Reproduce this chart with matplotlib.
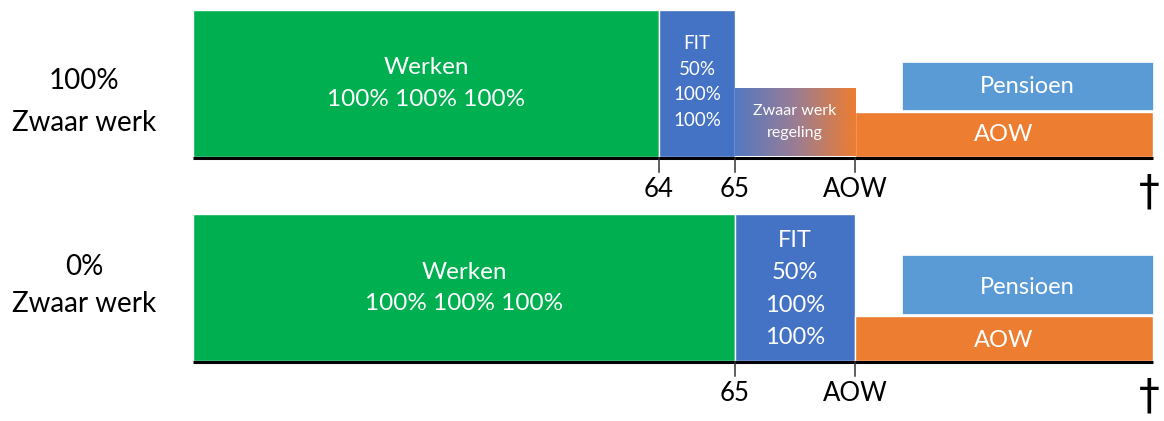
import matplotlib
matplotlib.use("Agg")
import matplotlib.pyplot as plt
import numpy as np
from matplotlib.colors import LinearSegmentedColormap

plt.rcParams['font.family'] = ['Lato', 'DejaVu Sans']

# ---- data ----
row_labels = ["100%\nZwaar werk", "0%\nZwaar werk"]
start_age = 57.87
fit_start = [64.0, 65.0]
fit_end = [65.0, 66.58]
zwr_start = 65.0           # zwaar werk regeling (only top row)
aow_age = 66.58
pension_start = 67.2
end_age = 70.5
full_level = 1.0
zwr_level = 0.46
aow_level = [0.306, 0.306]
pension_top = [0.646, 0.72]
fit_texts = ["FIT\n50%\n100%\n100%", "FIT\n50%\n100%\n100%"]
werken_text = "Werken\n100% 100% 100%"
tick_pos = [[64.0, 65.0, 66.58], [65.0, 66.58]]
tick_labels = [["64", "65", "AOW"], ["65", "AOW"]]

GREEN = "#00B050"
BLUE = "#4472C4"
LBLUE = "#5B9BD5"
ORANGE = "#ED7D31"

W, H = 1164, 421
fig = plt.figure(figsize=(W / 100, H / 100), dpi=100)

# pixel layout of the two panels: (top px, bottom px, baseline px)
panels = [(0, 210, 156.5), (210, 421, 360.5)]
unit_px = 147.0
px0_age = 64 - 659 / 76.0
px1_age = 64 + (W - 659) / 76.0

label_y = [0.37, 0.51]
label_ls = [1.75, 1.5]

for i, (ptop, pbot, base) in enumerate(panels):
    ax = fig.add_axes([0, 1 - pbot / H, 1, (pbot - ptop) / H])
    ax.set_xlim(px0_age, px1_age)
    ax.set_ylim(-(pbot - base) / unit_px, (base - ptop) / unit_px)
    ax.axis("off")

    # Werken
    ax.bar(start_age, full_level, width=fit_start[i] - start_age, align="edge",
           color=GREEN, edgecolor="white", linewidth=1, zorder=2)
    # FIT
    ax.bar(fit_start[i], full_level, width=fit_end[i] - fit_start[i], align="edge",
           color=BLUE, edgecolor="white", linewidth=1, zorder=2)
    # AOW
    ax.bar(aow_age, aow_level[i], width=end_age - aow_age, align="edge",
           color=ORANGE, edgecolor="white", linewidth=1, zorder=2)
    # Pensioen
    ax.bar(pension_start, pension_top[i] - aow_level[i] - 0.012, bottom=aow_level[i] + 0.012,
           width=end_age - pension_start, align="edge",
           color=LBLUE, edgecolor="white", linewidth=0.5, zorder=2)

    if i == 0:
        cmap = LinearSegmentedColormap.from_list("g", ["#5479C1", "#9A7D94", ORANGE])
        grad = np.linspace(0, 1, 256).reshape(1, -1)
        ax.imshow(grad, extent=[zwr_start, aow_age, 0, zwr_level], aspect="auto",
                  cmap=cmap, zorder=2, interpolation="bilinear")
        ax.text((zwr_start + aow_age) / 2, 0.235, "Zwaar werk\nregeling",
                ha="center", va="center", color="white", fontsize=11.5,
                linespacing=1.65, zorder=3)
        ax.text((fit_start[i] + fit_end[i]) / 2, 0.507, fit_texts[i], ha="center",
                va="center", color="white", fontsize=13.5, linespacing=1.62, zorder=3)
        ax.text((start_age + fit_start[i]) / 2, 0.497, werken_text, ha="center",
                va="center", color="white", fontsize=17.5, linespacing=1.6, zorder=3)
    else:
        ax.text((fit_start[i] + fit_end[i]) / 2, 0.486, fit_texts[i], ha="center",
                va="center", color="white", fontsize=17, linespacing=1.68, zorder=3)
        ax.text((start_age + fit_start[i]) / 2, 0.493, werken_text, ha="center",
                va="center", color="white", fontsize=17.5, linespacing=1.6, zorder=3)

    ax.text((pension_start + end_age) / 2, (aow_level[i] + pension_top[i]) / 2 + (0.0 if i == 0 else -0.015),
            "Pensioen", ha="center", va="center", color="white", fontsize=17, zorder=3)
    ax.text((aow_age + end_age) / 2, aow_level[i] / 2 - (0.005 if i == 0 else 0.02), "AOW",
            ha="center", va="center", color="white", fontsize=17, zorder=3)

    # row label
    ax.text(64 - 575 / 76.0, label_y[i], row_labels[i], ha="center", va="center",
            color="black", fontsize=20, linespacing=label_ls[i])

    # baseline + ticks
    ax.plot([start_age, end_age], [-0.011, -0.011], color="black", lw=2.2,
            solid_capstyle="butt", zorder=4)
    for tp, tl in zip(tick_pos[i], tick_labels[i]):
        ax.plot([tp, tp], [-0.011, -0.105], color="#333333", lw=1.1, zorder=4)
        ax.text(tp, -0.225, tl, ha="center", va="center", fontsize=18.5, color="black")
    ax.text(end_age - 0.05, -0.245, "\u2020", ha="center", va="center",
            fontsize=30, color="black", family="DejaVu Sans")

fig.savefig("out.png", dpi=100)
